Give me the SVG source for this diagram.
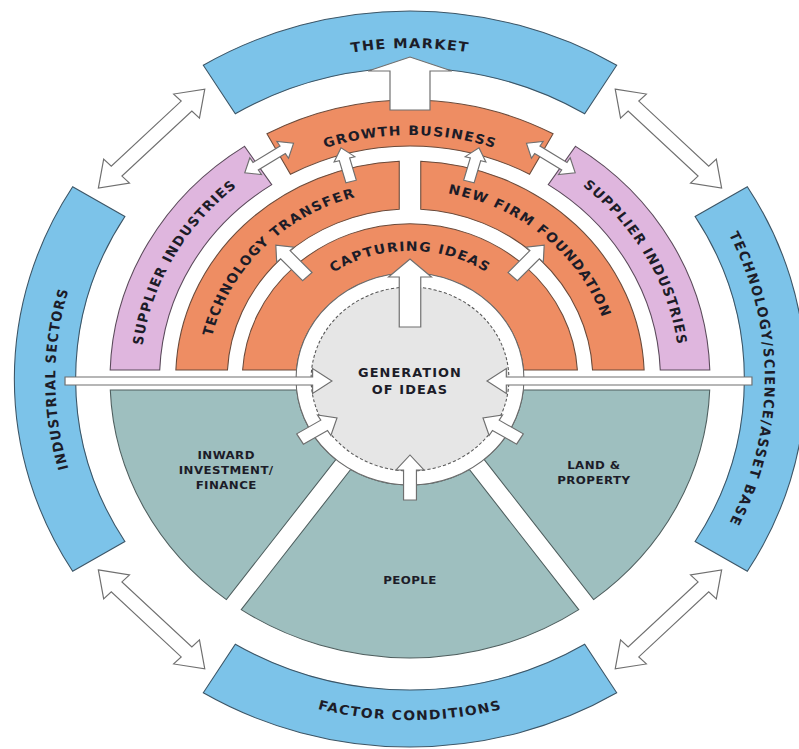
<svg xmlns="http://www.w3.org/2000/svg" width="799" height="749" viewBox="0 0 799 749">
<style>
.blue{fill:#7cc3e9;stroke:#3c5566;stroke-width:1}
.pink{fill:#dfb6de;stroke:#5a4a5a;stroke-width:1}
.orange{fill:#ee8d63;stroke:#6a4a3a;stroke-width:1}
.teal{fill:#9ebfbf;stroke:#4e5e5e;stroke-width:1}
.arr{fill:#fff;stroke:#6f6f6f;stroke-width:1.1}
.t{font-family:"DejaVu Sans",Verdana,sans-serif;font-weight:bold;fill:#1c1c28}
.ring{font-size:13px;letter-spacing:1.2px}
.lab{font-size:11px;text-anchor:middle;letter-spacing:0.4px}
</style>
<defs>
<path id="p-market" d="M -286.7,-165.5 A 331 331 0 0 1 286.7,-165.5"/>
<path id="p-factor" d="M -295.3,170.5 A 341 341 0 0 0 295.3,170.5"/>
<path id="p-ind" d="M -285.8,165 A 330 330 0 0 1 -285.8,-165"/>
<path id="p-tsa" d="M 285.8,-165 A 330 330 0 0 1 285.8,165"/>
<path id="p-supl" d="M -215.2,129.3 A 251 251 0 0 1 -4.4,-251"/>
<path id="p-supr" d="M 4.4,-251 A 251 251 0 0 1 215.2,129.3"/>
<path id="p-tt" d="M -181.5,52.7 A 189 189 0 0 1 45.1,-183.5"/>
<path id="p-nff" d="M -61.5,-178.7 A 189 189 0 0 1 185.5,36.1"/>
<path id="p-cap" d="M -126.1,-22.2 A 128 128 0 0 1 126.1,-22.2"/>
<path id="p-gb" d="M -211.3,-122 A 244 244 0 0 1 211.3,-122"/>
</defs>
<rect width="799" height="749" fill="#fff"/>
<g transform="translate(410,379) scale(1.075,1)">
  <g id="the-market">
    <path class="blue" d="M -192.3,-313.8 A 368 368 0 0 1 192.3,-313.8 L 162.5,-265.2 A 311 311 0 0 0 -162.5,-265.2 Z"/>
    <text class="t ring" style="font-size:13.5px"><textPath href="#p-market" startOffset="50%" text-anchor="middle">THE MARKET</textPath></text>
  </g>
  <g id="technology-science-asset-base">
    <path class="blue" d="M 313.8,-192.3 A 368 368 0 0 1 313.8,192.3 L 265.2,162.5 A 311 311 0 0 0 265.2,-162.5 Z"/>
    <text class="t ring" style="letter-spacing:1.4px"><textPath href="#p-tsa" startOffset="50%" text-anchor="middle">TECHNOLOGY/SCIENCE/ASSET BASE</textPath></text>
  </g>
  <g id="factor-conditions">
    <path class="blue" d="M 192.3,313.8 A 368 368 0 0 1 -192.3,313.8 L -162.5,265.2 A 311 311 0 0 0 162.5,265.2 Z"/>
    <text class="t ring"><textPath href="#p-factor" startOffset="50%" text-anchor="middle">FACTOR CONDITIONS</textPath></text>
  </g>
  <g id="industrial-sectors">
    <path class="blue" d="M -313.8,192.3 A 368 368 0 0 1 -313.8,-192.3 L -265.2,-162.5 A 311 311 0 0 0 -265.2,162.5 Z"/>
    <text class="t ring"><textPath href="#p-ind" startOffset="50%" text-anchor="middle">INDUSTRIAL SECTORS</textPath></text>
  </g>
  <g id="supplier-industries-left">
    <path class="pink" d="M -278.9,-9 A 279 279 0 0 1 -154.0,-232.7 L -128.6,-194.3 A 233 233 0 0 0 -232.8,-9 Z"/>
    <text class="t ring"><textPath href="#p-supl" startOffset="50%" text-anchor="middle">SUPPLIER INDUSTRIES</textPath></text>
  </g>
  <g id="supplier-industries-right">
    <path class="pink" d="M 154.0,-232.7 A 279 279 0 0 1 278.9,-9 L 232.8,-9 A 233 233 0 0 0 128.6,-194.3 Z"/>
    <text class="t ring"><textPath href="#p-supr" startOffset="50%" text-anchor="middle">SUPPLIER INDUSTRIES</textPath></text>
  </g>
  <g id="growth-business">
    <path class="orange" d="M -133.1,-245.2 A 279 279 0 0 1 133.1,-245.2 L 111.2,-204.8 A 233 233 0 0 0 -111.2,-204.8 Z"/>
    <text class="t ring"><textPath href="#p-gb" startOffset="50%" text-anchor="middle">GROWTH BUSINESS</textPath></text>
  </g>
  <g id="technology-transfer">
    <path class="orange" d="M -217.8,-9 A 218 218 0 0 1 -10,-217.8 L -10,-169.7 A 170 170 0 0 0 -169.8,-9 Z"/>
    <text class="t ring"><textPath href="#p-tt" startOffset="50%" text-anchor="middle">TECHNOLOGY TRANSFER</textPath></text>
  </g>
  <g id="new-firm-foundation">
    <path class="orange" d="M 10,-217.8 A 218 218 0 0 1 217.8,-9 L 169.8,-9 A 170 170 0 0 0 10,-169.7 Z"/>
    <text class="t ring"><textPath href="#p-nff" startOffset="50%" text-anchor="middle">NEW FIRM FOUNDATION</textPath></text>
  </g>
  <g id="capturing-ideas">
    <path class="orange" d="M -155.7,-9 A 156 156 0 0 1 155.7,-9 L 105.6,-9 A 106 106 0 0 0 -105.6,-9 Z"/>
    <text class="t ring"><textPath href="#p-cap" startOffset="50%" text-anchor="middle">CAPTURING IDEAS</textPath></text>
  </g>
  <g id="inward-investment-finance">
    <path class="teal" d="M -278.8,11 A 279 279 0 0 0 -170.8,220.6 L -69.0,80.5 A 106 106 0 0 1 -105.4,11 Z"/>
    <text class="t lab" x="-171" y="80">INWARD</text>
    <text class="t lab" x="-171" y="95">INVESTMENT/</text>
    <text class="t lab" x="-171" y="110">FINANCE</text>
  </g>
  <g id="people">
    <path class="teal" d="M -55.2,90.5 L -157.0,230.6 A 279 279 0 0 0 157.0,230.6 L 55.2,90.5 A 106 106 0 0 1 -55.2,90.5 Z"/>
    <text class="t lab" x="0" y="205">PEOPLE</text>
  </g>
  <g id="land-property">
    <path class="teal" d="M 278.8,11 A 279 279 0 0 1 170.8,220.6 L 69.0,80.5 A 106 106 0 0 0 105.4,11 Z"/>
    <text class="t lab" x="171" y="90">LAND &amp;</text>
    <text class="t lab" x="171" y="105">PROPERTY</text>
  </g>
  <g id="generation-of-ideas">
    <circle r="106" fill="#fff" stroke="#6a6a6a" stroke-width="1"/>
    <circle r="92" fill="#e6e6e6" stroke="#555" stroke-width="1" stroke-dasharray="3 2"/>
  </g>
  <g id="connectors">
    <polygon class="arr" points="-320.9,-2 -90.6,-2 -90.6,-10.5 -72.6,2 -90.6,14.5 -90.6,6 -320.9,6"/>
    <polygon class="arr" points="318.1,-2 89.6,-2 89.6,-10.5 71.6,2 89.6,14.5 89.6,6 318.1,6"/>
    <polygon class="arr" transform="translate(-102.3,60) rotate(-31.4)" points="0,-6 26.3,-6 26.3,-12 40.3,0 26.3,12 26.3,6 0,6"/>
    <polygon class="arr" transform="translate(102.3,60) rotate(-148.6)" points="0,-6 26.3,-6 26.3,-12 40.3,0 26.3,12 26.3,6 0,6"/>
    <polygon class="arr" transform="translate(0,121) rotate(-90)" points="0,-6 30,-6 30,-13 45,0 30,13 30,6 0,6"/>
    <polygon class="arr" transform="translate(0,-52) rotate(-90)" points="0,-10 50,-10 50,-20 68,0 50,20 50,10 0,10"/>
    <polygon class="arr" transform="translate(-95.5,-102.4) rotate(-133)" points="0,-6 30,-6 30,-11 43,0 30,11 30,6 0,6"/>
    <polygon class="arr" transform="translate(95.5,-102.4) rotate(-47)" points="0,-6 30,-6 30,-11 43,0 30,11 30,6 0,6"/>
    <polygon class="arr" transform="translate(-54.8,-197.5) rotate(-105.5)" points="0,-5 23,-5 23,-10 35,0 23,10 23,5 0,5"/>
    <polygon class="arr" transform="translate(54.8,-197.5) rotate(-74.5)" points="0,-5 23,-5 23,-10 35,0 23,10 23,5 0,5"/>
    <polygon class="arr" transform="translate(-131,-221) rotate(-33)" points="-27,0 -15,-10 -15,-4.5 15,-4.5 15,-10 27,0 15,10 15,4.5 -15,4.5 -15,10"/>
    <polygon class="arr" transform="translate(131,-221) rotate(33)" points="-27,0 -15,-10 -15,-4.5 15,-4.5 15,-10 27,0 15,10 15,4.5 -15,4.5 -15,10"/>
    <polygon class="arr" points="-18.6,-269 -18.6,-308 -39,-308 0,-322 39,-308 18.6,-308 18.6,-269"/>
    <polygon class="arr" transform="translate(-240.4,-240.4) rotate(-45)" points="-70,0 -46,-17 -46,-7 46,-7 46,-17 70,0 46,17 46,7 -46,7 -46,17"/>
    <polygon class="arr" transform="translate(240.4,-240.4) rotate(45)" points="-70,0 -46,-17 -46,-7 46,-7 46,-17 70,0 46,17 46,7 -46,7 -46,17"/>
    <polygon class="arr" transform="translate(240.4,240.4) rotate(-45)" points="-70,0 -46,-17 -46,-7 46,-7 46,-17 70,0 46,17 46,7 -46,7 -46,17"/>
    <polygon class="arr" transform="translate(-240.4,240.4) rotate(45)" points="-70,0 -46,-17 -46,-7 46,-7 46,-17 70,0 46,17 46,7 -46,7 -46,17"/>
  </g>
  <g id="generation-label">
    <text class="t lab" style="font-size:12px;letter-spacing:1px" x="0" y="-2">GENERATION</text>
    <text class="t lab" style="font-size:12px;letter-spacing:1px" x="0" y="15">OF IDEAS</text>
  </g>
</g>
</svg>
